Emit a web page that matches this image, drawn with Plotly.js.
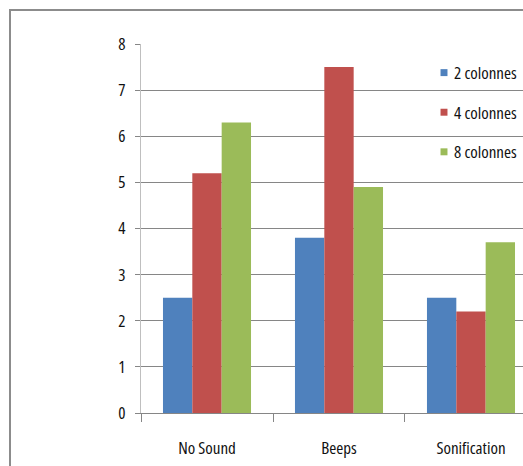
<!DOCTYPE html>
<html>
<head>
<meta charset="utf-8">
<script src="https://cdn.plot.ly/plotly-3.0.1.min.js"></script>
<style>
  html, body { margin: 0; padding: 0; background: #ffffff; }
  #chart { width: 523px; height: 466px; }
  text { font-stretch: condensed !important; }
  #chart .legendpoints path { transform: translate(30px, 0px) scale(0.58) !important; }
</style>
</head>
<body>
<div id="chart"></div>
<script>
const categories = ["No Sound", "Beeps", "Sonification"];
const seriesNames = ["2 colonnes", "4 colonnes", "8 colonnes"];
const values2 = [2.5, 3.8, 2.5];
const values4 = [5.2, 7.5, 2.2];
const values8 = [6.3, 4.9, 3.7];
const seriesValues = [values2, values4, values8];
const colors = ["#4F81BD", "#C0504D", "#9BBB59"];
const yTicks = [0, 1, 2, 3, 4, 5, 6, 7, 8];

const FONT = "'Open Sans', 'DejaVu Sans', sans-serif";
const FS = 17;

const traces = seriesNames.map((name, i) => ({
  type: "bar",
  name: name,
  x: categories,
  y: seriesValues[i],
  legendgroup: "g" + i,
  marker: { color: colors[i], line: { width: 0 } },
  hoverinfo: "skip"
}));

const layout = {
  width: 523,
  height: 466,
  margin: { l: 141, r: 0, t: 44, b: 53, pad: 0 },
  paper_bgcolor: "#ffffff",
  plot_bgcolor: "#ffffff",
  barmode: "group",
  bargap: 0.333,
  bargroupgap: 0,
  font: { family: FONT, size: FS, color: "#111111" },
  showlegend: true,
  legend: {
    x: 1, xanchor: "right",
    y: 0.97, yanchor: "top",
    bgcolor: "rgba(0,0,0,0)",
    font: { family: FONT, size: FS, color: "#111111" },
    tracegroupgap: 14.5,
    itemclick: false,
    itemdoubleclick: false
  },
  xaxis: {
    type: "category",
    range: [-0.5, 2.394],
    automargin: false,
    showgrid: false,
    showline: true,
    linecolor: "#868686",
    linewidth: 1,
    ticks: "outside",
    tickson: "boundaries",
    ticklen: 8,
    tickcolor: "#868686",
    tickwidth: 1,
    ticklabelstandoff: 20,
    tickfont: { family: FONT, size: FS, color: "#111111" },
    fixedrange: true,
    zeroline: false
  },
  yaxis: {
    range: [0, 8],
    automargin: false,
    tickvals: yTicks,
    ticktext: yTicks.map(String),
    showgrid: true,
    gridcolor: "#868686",
    gridwidth: 1,
    showline: true,
    linecolor: "#BFBFBF",
    linewidth: 1,
    ticks: "outside",
    ticklen: 5,
    tickcolor: "#868686",
    tickwidth: 1,
    ticklabelstandoff: 6,
    tickfont: { family: FONT, size: FS, color: "#111111" },
    zeroline: false,
    fixedrange: true
  },
  shapes: [
    {
      type: "rect",
      xref: "paper", yref: "paper",
      x0: (10 - 141) / 382, x1: 1.2,
      y0: -0.3, y1: (413 - 10) / 369,
      line: { color: "#8C8C8C", width: 2 },
      fillcolor: "rgba(0,0,0,0)",
      layer: "below"
    }
  ]
};

Plotly.newPlot("chart", traces, layout, { displayModeBar: false, staticPlot: true });
</script>
</body>
</html>
